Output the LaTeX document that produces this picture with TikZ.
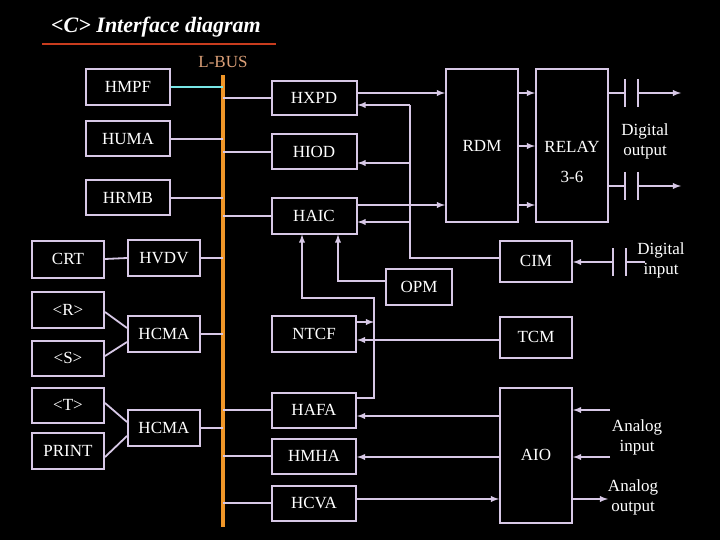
\documentclass[tikz,border=0pt]{standalone}
\usepackage{fontspec}
\setmainfont{Liberation Serif}
\usetikzlibrary{calc}
\definecolor{lav}{RGB}{215,200,230}
\definecolor{busc}{RGB}{240,150,40}
\definecolor{titleline}{RGB}{200,60,30}
\definecolor{buslabel}{RGB}{220,160,120}
\definecolor{cyanline}{RGB}{120,230,230}
\tikzset{
	blk/.style={draw=lav, line width=2pt, text=white, font=\fontsize{17}{18}\selectfont, inner sep=0pt},
	wire/.style={lav, line width=1.8pt},
	lbl/.style={text=white, font=\fontsize{17}{20}\selectfont, align=center}
}
\newcommand{\blkat}[6]{\node[blk, minimum width=#4pt, minimum height=#5pt] (#1) at (#2,#3) {#6};}
\begin{document}
\begin{tikzpicture}[x=1pt,y=-1pt,>=latex]
	\fill[black] (0,0) rectangle (720,540);
	\useasboundingbox (0,0) rectangle (720,540);
	% Title and bus
	\node[text=white, font=\fontsize{22}{24}\selectfont\bfseries\itshape] (title) at (156,27) {<C> Interface diagram};
	\draw[titleline, line width=1.8pt] (42,44) -- (276,44);
	\node[text=buslabel, font=\fontsize{17}{18}\selectfont] (buslbl) at (223,62) {L-BUS};
	\coordinate (bustop) at (223,75);
	\coordinate (busbot) at (223,527);
	\draw[busc, line width=3.5pt] (bustop) -- (busbot);
	% Left column
	\blkat{hmpf}{128}{87}{84}{36}{HMPF}
	\blkat{huma}{128}{139}{84}{35}{HUMA}
	\blkat{hrmb}{128}{198}{84}{35}{HRMB}
	\blkat{crt}{68}{259}{72}{37}{CRT}
	\blkat{hvdv}{164}{258}{72}{36}{HVDV}
	\blkat{r}{68}{310}{72}{36}{<R>}
	\blkat{s}{68}{358}{72}{35}{<S>}
	\blkat{t}{68}{405}{72}{35}{<T>}
	\blkat{print}{68}{451}{72}{36}{PRINT}
	\blkat{hcmaa}{164}{334}{72}{36}{HCMA}
	\blkat{hcmab}{164}{428}{72}{36}{HCMA}
	% Right of bus
	\blkat{hxpd}{314}{98}{85}{34}{HXPD}
	\blkat{hiod}{314}{152}{85}{35}{HIOD}
	\blkat{haic}{314}{216}{85}{35}{HAIC}
	\blkat{ntcf}{314}{334}{84}{36}{NTCF}
	\blkat{hafa}{314}{410}{84}{35}{HAFA}
	\blkat{hmha}{314}{456}{84}{35}{HMHA}
	\blkat{hcva}{314}{503}{84}{35}{HCVA}
	\blkat{opm}{419}{287}{66}{36}{OPM}
	\blkat{rdm}{482}{146}{72}{153}{RDM}
	\node[blk, minimum width=72pt, minimum height=153pt] (relay) at (572,146) {};
	\node[lbl] (relaytxt) at (572,162) {RELAY\\[10pt]3-6};
	\blkat{cim}{536}{261}{72}{41}{CIM}
	\blkat{tcm}{536}{337}{72}{41}{TCM}
	\blkat{aio}{536}{455}{72}{135}{AIO}
	% Bus taps
	\draw[cyanline, line width=1.8pt] (hmpf.east) -- (223,87);
	\foreach \n/\y in {huma/139, hrmb/198, hvdv/258, hcmaa/334, hcmab/428}
		\draw[wire] (\n.east) -- (223,\y);
	\foreach \n/\y in {hxpd/98, hiod/152, haic/216, hafa/410, hmha/456, hcva/503}
		\draw[wire] (223,\y) -- (\n.west);
	\draw[wire] (crt.east) -- (hvdv.west);
	\draw[wire] ($(r.east)+(0,2)$) -- ($(hcmaa.west)+(0,-6)$);
	\draw[wire] ($(s.east)+(0,-2)$) -- ($(hcmaa.west)+(0,8)$);
	\draw[wire] ($(t.east)+(0,-2)$) -- ($(hcmab.west)+(0,-6)$);
	\draw[wire] ($(print.east)+(0,6)$) -- ($(hcmab.west)+(0,8)$);
	% Signal paths
	\draw[wire,->] (357,93) -- (rdm.west |- 0,93);
	\draw[wire,->] (357,205) -- (rdm.west |- 0,205);
	\foreach \y in {93,146,205}
		\draw[wire,->] (rdm.east |- 0,\y) -- (relay.west |- 0,\y);
	\draw[wire] (cim.west |- 0,258) -- (410,258) -- (410,105);
	\foreach \y in {105,163,222}
		\draw[wire,->] (410,\y) -- (hxpd.east |- 0,\y);
	\draw[wire,->] (opm.west |- 0,281) -- (338,281) -- (haic.south -| 338,0);
	\draw[wire,->] (hafa.east |- 0,398) -- (374,398) -- (374,298) -- (302,298) -- (haic.south -| 302,0);
	\draw[wire,->] (ntcf.east |- 0,322) -- (374,322);
	\draw[wire,->] (tcm.west |- 0,340) -- (ntcf.east |- 0,340);
	\draw[wire,->] (aio.west |- 0,416) -- (hafa.east |- 0,416);
	\draw[wire,->] (aio.west |- 0,457) -- (hmha.east |- 0,457);
	\draw[wire,->] (hcva.east |- 0,499) -- (aio.west |- 0,499);
	% Digital I/O
	\foreach \y in {93,186} {
		\draw[wire] (relay.east |- 0,\y) -- (625,\y);
		\draw[wire] (625,\y-14) -- (625,\y+14);
		\draw[wire] (638,\y-14) -- (638,\y+14);
		\draw[wire,->] (638,\y) -- (681,\y);
	}
	\node[lbl] (dout) at (645,141) {Digital\\output};
	\draw[wire] (613,248) -- (613,276);
	\draw[wire] (626,248) -- (626,276);
	\draw[wire] (626,262) -- (645,262);
	\draw[wire,->] (613,262) -- (cim.east |- 0,262);
	\node[lbl] (din) at (661,260) {Digital\\input};
	% Analog I/O
	\draw[wire,->] (610,410) -- (aio.east |- 0,410);
	\draw[wire,->] (610,457) -- (aio.east |- 0,457);
	\draw[wire,->] (aio.east |- 0,499) -- (608,499);
	\node[lbl] (ain) at (637,437) {Analog\\input};
	\node[lbl] (aout) at (633,497) {Analog\\output};
\end{tikzpicture}
\end{document}
